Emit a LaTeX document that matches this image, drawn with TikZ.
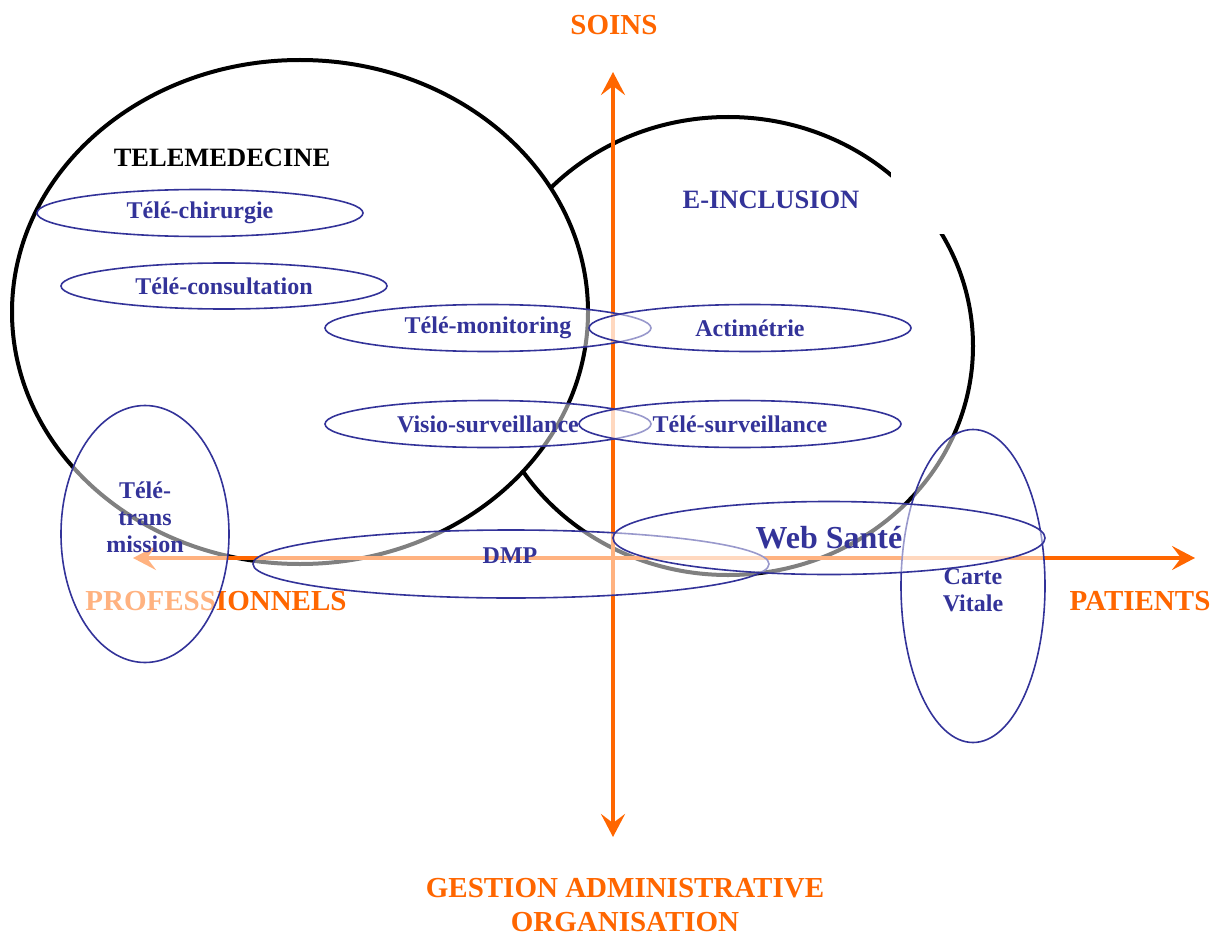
\documentclass[tikz,border=0pt]{standalone}
\usepackage{fontspec}
\setmainfont{Liberation Serif}
\usepackage{tikz}
\usetikzlibrary{shapes.geometric,arrows.meta}
\definecolor{orangeaxe}{HTML}{FF6600}
\definecolor{bleu}{HTML}{333399}
\begin{document}
\begin{tikzpicture}[x=1pt,y=-1pt,
  grand/.style={ellipse,draw=black,line width=4pt,fill=white,inner sep=0pt},
  bulle/.style={ellipse,draw=bleu,line width=1.6pt,fill=white,fill opacity=0.5,
    draw opacity=1,text opacity=1,text=bleu,inner sep=0pt,
    font=\fontsize{24}{27}\selectfont\bfseries,align=center},
  etiq/.style={bleu,font=\fontsize{24}{27}\selectfont\bfseries,align=center},
  titre/.style={orangeaxe,font=\fontsize{29}{34}\selectfont\bfseries,align=center},
  axe/.style={orangeaxe,line width=3.5pt,
    {Stealth[length=23pt,width=24pt,inset=9pt]}-{Stealth[length=23pt,width=24pt,inset=9pt]}}]
  \useasboundingbox (0,0) rectangle (1231,936);
  \node[grand,minimum width=490pt,minimum height=458pt] (einc) at (728,346) {};
  \fill[white] (891,168) rectangle (946,234);
  \node[grand,minimum width=576pt,minimum height=504pt] (telemed) at (300,312) {};
  \node[font=\fontsize{26.5}{30}\selectfont\bfseries] (ltelemed) at (222,158) {TELEMEDECINE};
  \node[bleu,font=\fontsize{26.5}{30}\selectfont\bfseries] (leinc) at (771,200) {E-INCLUSION};
  \coordinate (haut) at (613,72);
  \coordinate (bas) at (613,837);
  \coordinate (gauche) at (133,558);
  \coordinate (droite) at (1195,558);
  \draw[axe] (bas) -- (haut);
  \draw[axe] (gauche) -- (droite);
  \node[titre] (soins) at (614,25) {SOINS};
  \node[titre] (patients) at (1140,601) {PATIENTS};
  \node[titre] (pros) at (216,601) {PROFESSIONNELS};
  \node[titre,inner sep=0pt] (gestion) at (625,905) {GESTION ADMINISTRATIVE\\ORGANISATION};
  \node[bulle,minimum width=326pt,minimum height=47pt] (chir) at (200,213) {Télé-chirurgie};
  \node[bulle,minimum width=326pt,minimum height=46pt] (consult) at (224,286) {Télé-consultation};
  \node[bulle,minimum width=326pt,minimum height=47pt] (monit) at (488,328) {Télé-monitoring};
  \node[bulle,minimum width=322pt,minimum height=47pt] (acti) at (750,328) {Actimétrie};
  \node[bulle,minimum width=326pt,minimum height=47pt] (visio) at (488,424) {Visio-surveillance};
  \node[bulle,minimum width=322pt,minimum height=47pt] (survei) at (740,424) {Télé-surveillance};
  \node[bulle,minimum width=168pt,minimum height=257pt] (transm) at (145,534) {};
  \node[etiq] (ltransm) at (145,517) {Télé-\\trans\\mission};
  \node[bulle,minimum width=516pt,minimum height=68pt] (dmp) at (511,564) {};
  \node[etiq] (ldmp) at (510,556) {DMP};
  \node[bulle,minimum width=144pt,minimum height=313pt] (carte) at (973,586) {};
  \node[bulle,minimum width=432pt,minimum height=73pt,
    font=\fontsize{32}{36}\selectfont\bfseries] (web) at (829,538) {Web Santé};
  \node[etiq] (lcarte) at (973,590) {Carte\\Vitale};
\end{tikzpicture}
\end{document}
